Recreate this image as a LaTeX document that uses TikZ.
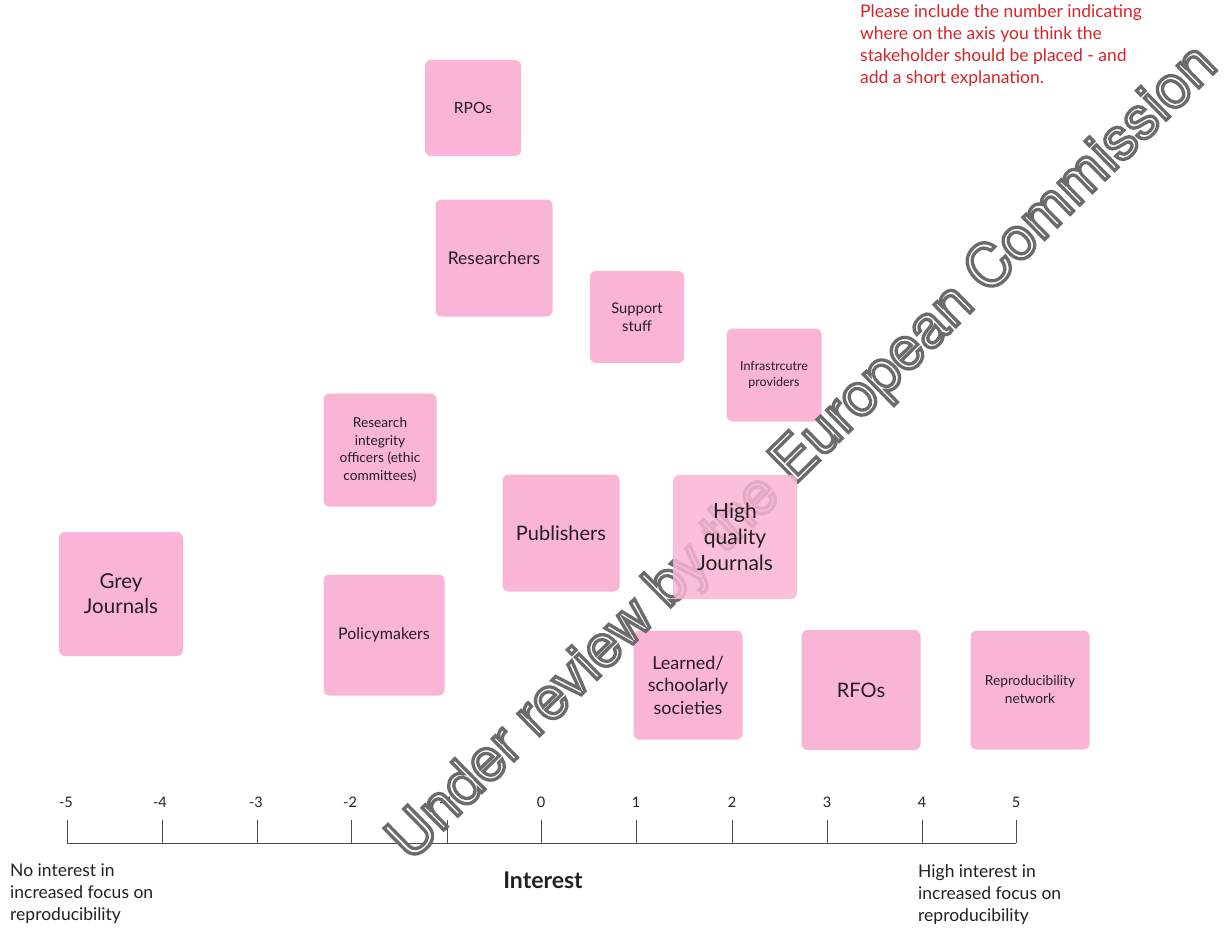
\documentclass[tikz,border=0pt]{standalone}
\usepackage{fontspec}
\setmainfont{Lato}
\newfontfamily\markfont{TeX Gyre Heros}
\definecolor{stickypink}{RGB}{250,180,213}
\definecolor{notered}{RGB}{215,35,40}
\definecolor{inkgrey}{RGB}{35,30,35}
\newcommand{\hollowtext}[1]{\color{white}\special{pdf:literal direct 2 Tr 3.3 w 0.42 G}#1\special{pdf:literal direct 0 Tr 1 w}}
\tikzset{
  stake/.style={fill=stickypink, rounded corners=6pt, align=center, text=inkgrey, inner sep=2pt},
  axisline/.style={draw=black!70, line width=0.9pt},
  ticknum/.style={font=\fontsize{14.5}{16}\selectfont, text=inkgrey},
  endnote/.style={font=\fontsize{17.5}{22}\selectfont, align=left, anchor=north west, inner sep=0pt, text=inkgrey}
}
\begin{document}
\begin{tikzpicture}[x=1pt, y=-1pt]
        \useasboundingbox (0,0) rectangle (1228,931);

        % stakeholders
        \node[stake, minimum width=96pt, minimum height=96pt, font=\fontsize{15.5}{17}\selectfont] (rpos) at (473,108) {RPOs};
        \node[stake, minimum width=117pt, minimum height=117pt, font=\fontsize{17.5}{20}\selectfont] (researchers) at (494,258) {Researchers};
        \node[stake, minimum width=94pt, minimum height=92pt, font=\fontsize{14.7}{18}\selectfont] (support) at (637,317) {Support\\stuff};
        \node[stake, minimum width=95pt, minimum height=93pt, font=\fontsize{12.5}{16}\selectfont] (infra) at (774,375) {Infrastrcutre\\providers};
        \node[stake, minimum width=113pt, minimum height=113pt, font=\fontsize{13.7}{17.5}\selectfont] (integrity) at (380,450) {Research\\integrity\\officers (ethic\\committees)};
        \node[stake, minimum width=117pt, minimum height=117pt, font=\fontsize{20}{24}\selectfont] (publishers) at (561,533) {Publishers};
        \node[stake, minimum width=124pt, minimum height=124pt, font=\fontsize{20.5}{25}\selectfont] (grey) at (121,594) {Grey\\Journals};
        \node[stake, minimum width=121pt, minimum height=121pt, font=\fontsize{16}{18}\selectfont] (policy) at (384,635) {Policymakers};
        \node[stake, minimum width=109pt, minimum height=109pt, font=\fontsize{18}{22.5}\selectfont] (learned) at (688,685) {Learned/\\schoolarly\\societies};
        \node[stake, minimum width=119pt, minimum height=120pt, font=\fontsize{20}{22}\selectfont] (rfos) at (861,690) {RFOs};
        \node[stake, minimum width=119pt, minimum height=119pt, font=\fontsize{13.7}{18}\selectfont] (repnet) at (1030,690) {Reproducibility\\network};

        % axis
        \draw[axisline] (67,843) -- (1016,843);
        \draw[axisline] (67,820) -- (67,843);
        \draw[axisline] (162,820) -- (162,843);
        \draw[axisline] (257,820) -- (257,843);
        \draw[axisline] (351,820) -- (351,843);
        \draw[axisline] (447,820) -- (447,843);
        \draw[axisline] (541,820) -- (541,843);
        \draw[axisline] (636,820) -- (636,843);
        \draw[axisline] (732,820) -- (732,843);
        \draw[axisline] (827,820) -- (827,843);
        \draw[axisline] (922,820) -- (922,843);
        \draw[axisline] (1016,820) -- (1016,843);

        \node[ticknum] (tm5) at (66,802) {-5};
        \node[ticknum] (tm4) at (160,802) {-4};
        \node[ticknum] (tm3) at (256,802) {-3};
        \node[ticknum] (tm2) at (350,802) {-2};
        \node[ticknum] (tm1) at (446,802) {-1};
        \node[ticknum] (t0) at (541,802) {0};
        \node[ticknum] (t1) at (636,802) {1};
        \node[ticknum] (t2) at (732,802) {2};
        \node[ticknum] (t3) at (827,802) {3};
        \node[ticknum] (t4) at (922,802) {4};
        \node[ticknum] (t5) at (1016,802) {5};

        \node[endnote] (lownote) at (10,864) {No interest in\\increased focus on\\reproducibility};
        \node[endnote] (highnote) at (918,864) {High interest in\\increased focus on\\reproducibility};
        \node[font=\fontsize{23}{26}\selectfont\bfseries, text=inkgrey] (axistitle) at (543,880) {Interest};

        % instruction
        \node[endnote, text=notered] (instr) at (860,4) {Please include the number indicating\\where on the axis you think the\\stakeholder should be placed - and\\add a short explanation.};

        % watermark
        \node[rotate=44.5, font=\markfont\fontsize{59}{60}\selectfont] (mark) at (804,454) {\hollowtext{Under review by the European Commission}};

        % this one sits over the watermark
        \node[stake, fill opacity=0.85, text opacity=1, minimum width=124pt, minimum height=124pt, font=\fontsize{21}{26}\selectfont] (highq) at (735,537) {High\\quality\\Journals};
\end{tikzpicture}
\end{document}
